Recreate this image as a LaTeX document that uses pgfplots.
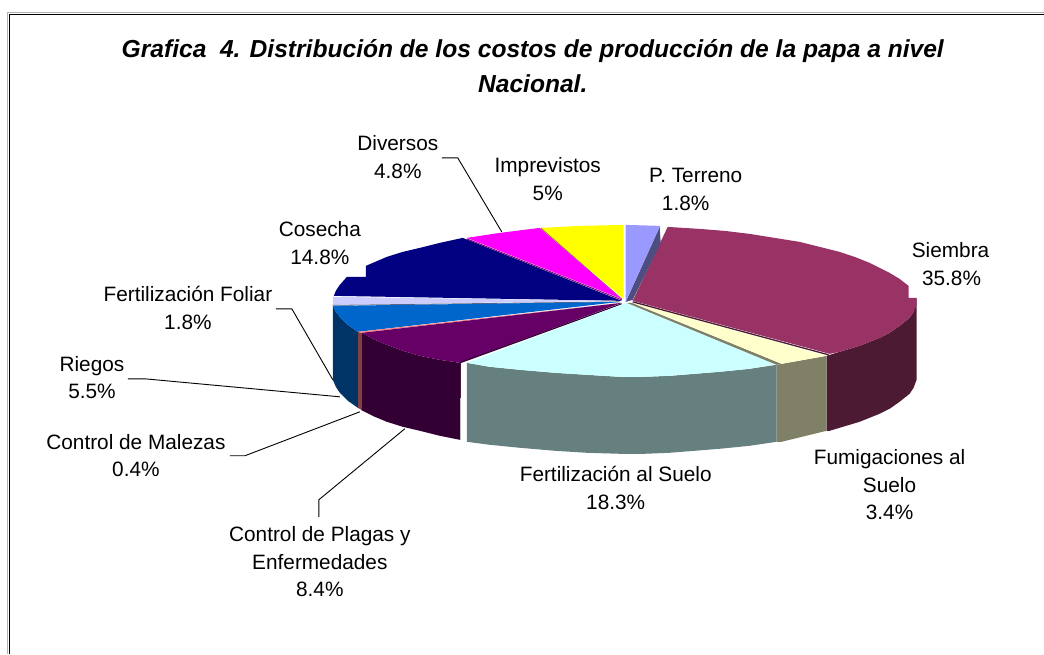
\documentclass[border=0pt]{standalone}
\usepackage{pgfplots}
\pgfplotsset{compat=1.18}
\usepackage{fontspec}
\setmainfont{Liberation Sans}
\definecolor{cTerr}{HTML}{9999FF}\definecolor{wTerr}{HTML}{4D4D80}
\definecolor{cSiem}{HTML}{993366}\definecolor{wSiem}{HTML}{4D1A33}
\definecolor{cFumi}{HTML}{FFFFCC}\definecolor{wFumi}{HTML}{808066}
\definecolor{cFert}{HTML}{CCFFFF}\definecolor{wFert}{HTML}{668080}
\definecolor{cPlag}{HTML}{660066}\definecolor{wPlag}{HTML}{330033}
\definecolor{cMale}{HTML}{FF8080}\definecolor{wMale}{HTML}{804040}
\definecolor{cRieg}{HTML}{0066CC}\definecolor{wRieg}{HTML}{003366}
\definecolor{cFoli}{HTML}{CCCCFF}\definecolor{wFoli}{HTML}{666680}
\definecolor{cCose}{HTML}{000080}
\definecolor{cDive}{HTML}{FF00FF}\definecolor{wDive}{HTML}{800080}
\definecolor{cImpr}{HTML}{FFFF00}\definecolor{wImpr}{HTML}{808000}
\tikzset{lb/.style={align=center,font=\fontsize{20.8}{27.5}\selectfont,inner sep=0pt,text=black}}
\begin{document}
\begin{tikzpicture}
\begin{axis}[hide axis,scale only axis,width=1044pt,height=654pt,
 xmin=0,xmax=1044,ymin=0,ymax=654,y dir=reverse,clip=false]
\addplot[draw=none] coordinates {(0,0)(1044,654)};
% frame
\addplot[draw=gray!60,line width=1pt] coordinates {(8,654)(8,13)(1044,13)};
\addplot[draw=black,line width=1pt] coordinates {(9.5,654)(9.5,14.5)(1044,14.5)};
% walls
\addplot[fill=wSiem,draw=none] coordinates {(917,298)(917,380)(914,388)(910,394)(900,402)(890,409)(880,414)(870,418)(860,422)(850,425)(840,428)(830,431)(827,431)(827,356)(840,352)(850,349)(860,346)(870,342)(880,338)(890,333)(900,326)(910,318)(914,312)} --cycle;
\addplot[fill=wFumi,draw=none] coordinates {(777,365)(782,364)(827,356)(827,431)(782,442)(777,442)} --cycle;
\addplot[fill=wFert,draw=none] coordinates {(467,363)(490,367)(520,370)(555,373)(587,375)(620,377)(645,377)(670,376)(695,374)(720,372)(750,369)(777,365)(777,442)(750,446)(720,449)(695,451)(670,453)(645,454)(620,454)(587,453)(555,451)(520,448)(490,445)(467,442)} --cycle;
\addplot[fill=wPlag,draw=none] coordinates {(362,333)(375,340)(387,345)(403,351)(420,356)(440,360)(460,363)(460,440)(440,436)(420,431)(403,427)(387,422)(375,417)(361,410)} --cycle;
\addplot[draw=gray!50,line width=1pt] coordinates {(460.5,398)(460.5,440)};
\addplot[draw=wSiem,line width=1pt] coordinates {(460.5,363)(460.5,398)};
\addplot[fill=wMale,draw=none] coordinates {(358,332)(362,333)(362,410)(358,408)} --cycle;
\addplot[fill=wRieg,draw=none] coordinates {(333,306)(336,312)(340,317)(348,325)(358,332)(358,408)(348,401)(340,393)(336,387)(333,380)} --cycle;
% tops
\addplot[fill=cCose,draw=none] coordinates {(622,301)(334,296)(336,291)(340,285)(347,277)(366,277)(366,266)(387,257)(403,252)(420,248)(440,243)(463,238)} --cycle;
\addplot[fill=cFoli,draw=none] coordinates {(620,301)(333,297)(333,305)} --cycle;
\addplot[draw=wFoli,line width=0.8pt] coordinates {(333,305.5)(620,302)};
\addplot[fill=cRieg,draw=none] coordinates {(620,302)(333,306)(336,312)(340,317)(348,325)(358,332)} --cycle;
\addplot[fill=cMale,draw=none] coordinates {(622,303)(358,332)(362,333)} --cycle;
\addplot[fill=cPlag,draw=none] coordinates {(622,303)(362,333)(375,340)(387,345)(403,351)(420,356)(440,360)(460,363)} --cycle;
\addplot[draw=wPlag,line width=1.2pt] coordinates {(460,363)(622,304)};
\addplot[fill=cFert,draw=none] coordinates {(626,303)(777,364)(750,369)(720,372)(695,374)(670,376)(645,377)(620,377)(587,375)(555,373)(520,370)(490,367)(467,363)} --cycle;
\addplot[fill=wFumi,draw=none] coordinates {(627,303)(632,303)(782,364)(777,365)} --cycle;
\addplot[fill=cFumi,draw=none] coordinates {(634,303)(827,356)(782,364)} --cycle;
\addplot[fill=cSiem,draw=none] coordinates {(633,301)(668,227)(700,229)(725,231)(750,234)(775,238)(800,242)(820,247)(840,252)(855,257)(870,263)(880,268)(890,273)(900,279)(909,286)(909,298)(917,298)(917,305)(914,312)(910,318)(900,326)(890,333)(880,338)(870,342)(860,346)(850,349)(840,352)(830,354)} --cycle;
\addplot[draw=wSiem,line width=1.3pt] coordinates {(633,302)(829,355)};
\addplot[fill=wTerr,draw=none] coordinates {(660,227)(661,243)(633,300)(626,302)} --cycle;
\addplot[fill=cTerr,draw=none] coordinates {(626,225)(661,226)(660,227)(626,302)} --cycle;
\addplot[fill=cImpr,draw=none] coordinates {(541,228)(580,226)(624,225)(624,299)} --cycle;
\addplot[draw=wImpr,line width=0.7pt] coordinates {(541,228)(622,299)};
\addplot[fill=cDive,draw=none] coordinates {(467,238)(500,233)(540,228)(622,299)} --cycle;
\addplot[draw=wDive,line width=1pt] coordinates {(467,239)(622,300)};
% leaders
\addplot[draw=black,line width=0.9pt] coordinates {(442,158)(458,158)(502,232)};
\addplot[draw=black,line width=0.9pt] coordinates {(276,309)(292,309)(333,380)};
\addplot[draw=black,line width=0.9pt] coordinates {(128,379)(145,379)(340,397)};
\addplot[draw=black,line width=0.9pt] coordinates {(230,456)(245,456)(360,412)};
\addplot[draw=black,line width=0.9pt] coordinates {(319,517)(319,500)(405,429)};
% text
\node[align=center,inner sep=0pt,font=\fontsize{24.6}{35}\selectfont\bfseries\itshape] at (axis cs:533,66) {Grafica\ \ 4. Distribución de los costos de producción de la papa a nivel\\Nacional.};
\node[lb] at (axis cs:398,157) {Diversos\\4.8\%};
\node[lb] at (axis cs:548,179) {Imprevistos\\5\%};
\node[lb] at (axis cs:696,176) {P. Terreno};
\node[lb] at (axis cs:686,203) {1.8\%};
\node[lb] at (axis cs:951,250) {Siembra};
\node[lb] at (axis cs:952,278) {35.8\%};
\node[lb] at (axis cs:320,243) {Cosecha\\14.8\%};
\node[lb] at (axis cs:188,308) {Fertilización Foliar\\1.8\%};
\node[lb] at (axis cs:92,378) {Riegos\\5.5\%};
\node[lb] at (axis cs:136,456) {Control de Malezas\\0.4\%};
\node[lb] at (axis cs:616,488) {Fertilización al Suelo\\18.3\%};
\node[lb] at (axis cs:890,485) {Fumigaciones al\\Suelo\\3.4\%};
\node[lb] at (axis cs:320,562) {Control de Plagas y\\Enfermedades\\8.4\%};
\end{axis}
\end{tikzpicture}
\end{document}
